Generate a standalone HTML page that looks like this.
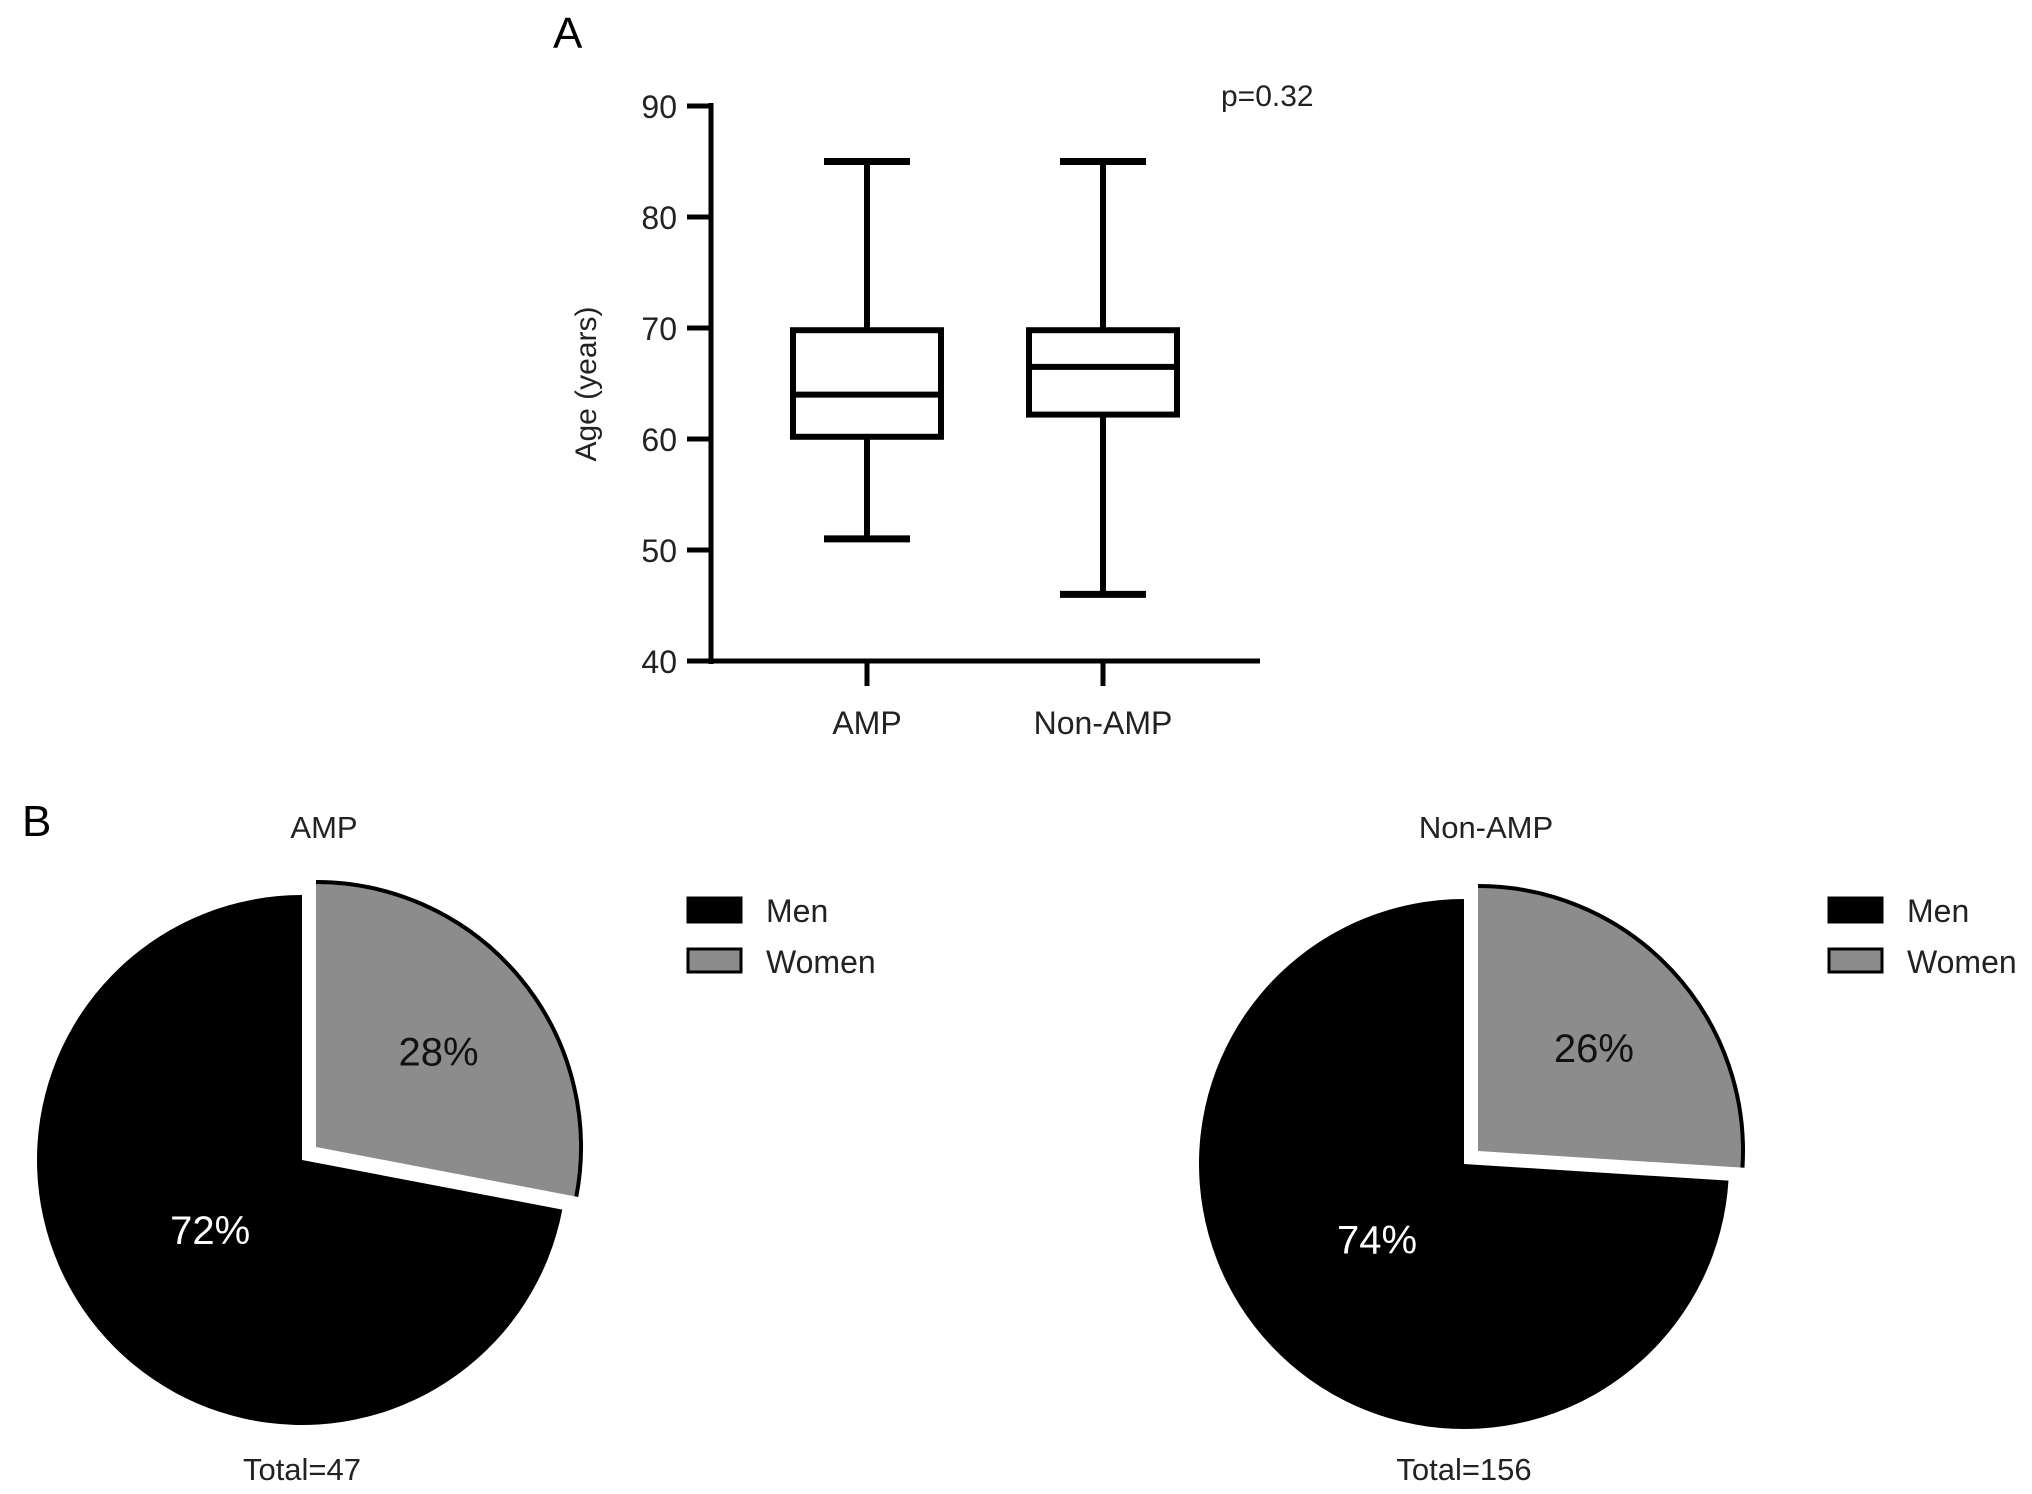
<!DOCTYPE html>
<html><head><meta charset="utf-8"><style>
html,body{margin:0;padding:0;background:#fff;}
svg{display:block;font-family:"Liberation Sans",sans-serif;}
</style></head><body>
<svg id="fig" width="2032" height="1494" viewBox="0 0 2032 1494">
<text x="553" y="48" font-size="44">A</text>
<text x="22" y="836" font-size="44">B</text>
<g id="boxplot"></g>
<g id="pies"></g>
</svg>
<script>
const categories = ["AMP", "Non-AMP"];
const whiskerMin = [51, 46];
const q1 = [60.2, 62.2];
const median = [64, 66.5];
const q3 = [69.8, 69.8];
const whiskerMax = [85, 85];
const yTicks = [40, 50, 60, 70, 80, 90];

const pieTitles = ["AMP", "Non-AMP"];
const menPct = [72, 74];
const womenPct = [28, 26];
const totals = [47, 156];

const NS = "http://www.w3.org/2000/svg";
function mk(tag, attrs, parent, text) {
  const e = document.createElementNS(NS, tag);
  for (const k in attrs) e.setAttribute(k, attrs[k]);
  if (text !== undefined) e.textContent = text;
  parent.appendChild(e);
  return e;
}
const bp = document.getElementById("boxplot");
const yMin = 40, yMax = 90, yTop = 106, yBot = 661;
const y = v => yBot - (v - yMin) / (yMax - yMin) * (yBot - yTop);
const xCenters = [867, 1103];
const x = i => xCenters[i];
const axX = 711;
let e;
e = mk("line", {x1: axX, y1: yTop - 3, x2: axX, y2: yBot + 3, stroke: "#000", "stroke-width": 5}, bp);


e = mk("line", {x1: axX - 3, y1: yBot, x2: 1260, y2: yBot, stroke: "#000", "stroke-width": 5}, bp);


yTicks.forEach(t => {
  e = mk("line", {x1: 687, y1: y(t), x2: axX, y2: y(t), stroke: "#000", "stroke-width": 5}, bp);
  
  
  e = mk("text", {x: 677, y: y(t) + 12, "font-size": 32, "text-anchor": "end", fill: "#222"}, bp, t);
  
  
});
e = mk("text", {x: 0, y: 0, "font-size": 30, "text-anchor": "middle", fill: "#222", transform: "translate(596,384) rotate(-90)"}, bp, "Age (years)");


e = mk("text", {x: 1221, y: 106, "font-size": 30, fill: "#222"}, bp, "p=0.32");


categories.forEach((c, i) => {
  const cx = x(i), bw = 148, cw = 86;
  const g = mk("g", {}, bp);
  
  
  mk("line", {x1: cx, y1: y(whiskerMax[i]), x2: cx, y2: y(q3[i]), stroke: "#000", "stroke-width": 6}, g);
  mk("line", {x1: cx, y1: y(q1[i]), x2: cx, y2: y(whiskerMin[i]), stroke: "#000", "stroke-width": 6}, g);
  mk("line", {x1: cx - cw/2, y1: y(whiskerMax[i]), x2: cx + cw/2, y2: y(whiskerMax[i]), stroke: "#000", "stroke-width": 7}, g);
  mk("line", {x1: cx - cw/2, y1: y(whiskerMin[i]), x2: cx + cw/2, y2: y(whiskerMin[i]), stroke: "#000", "stroke-width": 7}, g);
  mk("rect", {x: cx - bw/2, y: y(q3[i]), width: bw, height: y(q1[i]) - y(q3[i]), fill: "#fff", stroke: "#000", "stroke-width": 6}, g);
  mk("line", {x1: cx - bw/2, y1: y(median[i]), x2: cx + bw/2, y2: y(median[i]), stroke: "#000", "stroke-width": 6}, g);
  e = mk("line", {x1: cx, y1: yBot, x2: cx, y2: 686, stroke: "#000", "stroke-width": 5}, bp);
  
  
  e = mk("text", {x: cx, y: 734, "font-size": 32, "text-anchor": "middle", fill: "#222"}, bp, c);
  
  
});
const pies = document.getElementById("pies");
const pieCx = [302, 1464], pieCy = [1160, 1164], R = 265, off = [14, -13];
const legX = [688, 1829];
function pt(cx, cy, r, a) { const rad = (a - 90) * Math.PI / 180; return [cx + r * Math.cos(rad), cy + r * Math.sin(rad)]; }
function arc(cx, cy, r, a0, a1) {
  const p0 = pt(cx, cy, r, a0), p1 = pt(cx, cy, r, a1);
  const large = (a1 - a0) > 180 ? 1 : 0;
  return `M${cx},${cy} L${p0[0]},${p0[1]} A${r},${r} 0 ${large} 1 ${p1[0]},${p1[1]} Z`;
}
pieTitles.forEach((t, i) => {
  const cx = pieCx[i], cy = pieCy[i];
  const wA = womenPct[i] / (womenPct[i] + menPct[i]) * 360;
  e = mk("text", {x: cx + 22, y: 838, "font-size": 31, "text-anchor": "middle", fill: "#222"}, pies, t);
  
  
  e = mk("path", {d: arc(cx, cy, R, wA, 360), fill: "#000"}, pies);
  
  
  const wx = cx + off[0], wy = cy + off[1];
  e = mk("path", {d: arc(wx, wy, R, 0, wA), fill: "#8c8c8c"}, pies);
  
  
  const a0 = pt(wx, wy, R, 0), a1 = pt(wx, wy, R, wA);
  mk("path", {d: `M${a0[0]},${a0[1]} A${R},${R} 0 0 1 ${a1[0]},${a1[1]}`, fill: "none", stroke: "#000", "stroke-width": 4}, pies);
  const lw = pt(wx, wy, R * 0.6, wA / 2);
  e = mk("text", {x: lw[0], y: lw[1] + 20, "font-size": 40, "text-anchor": "middle", fill: "#111"}, pies, womenPct[i] + "%");
  
  
  const lm = pt(cx, cy, R * 0.45, wA + (360 - wA) / 2);
  e = mk("text", {x: lm[0], y: lm[1] + 8, "font-size": 40, "text-anchor": "middle", fill: "#fff"}, pies, menPct[i] + "%");
  
  
  e = mk("text", {x: cx, y: 1480, "font-size": 31, "text-anchor": "middle", fill: "#222"}, pies, "Total=" + totals[i]);
  
  
  const lg = mk("g", {}, pies);
  
  
  mk("rect", {x: legX[i], y: 898, width: 53, height: 24, fill: "#000", stroke: "#000", "stroke-width": 3}, lg);
  mk("text", {x: legX[i] + 78, y: 922, "font-size": 32, fill: "#222"}, lg, "Men");
  mk("rect", {x: legX[i], y: 949, width: 53, height: 23, fill: "#8c8c8c", stroke: "#000", "stroke-width": 3}, lg);
  mk("text", {x: legX[i] + 78, y: 973, "font-size": 32, fill: "#222"}, lg, "Women");
});
</script>
</body></html>
